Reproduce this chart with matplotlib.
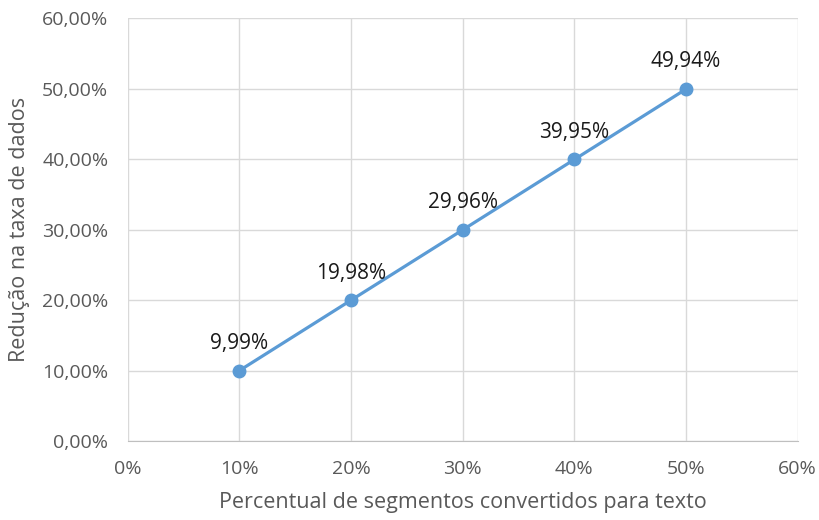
import matplotlib
matplotlib.use("Agg")
import matplotlib.pyplot as plt
from matplotlib.ticker import FuncFormatter

# percentual de segmentos convertidos (%) e reducao na taxa (%)
segmentos = [10, 20, 30, 40, 50]
reducao = [9.99, 19.98, 29.96, 39.95, 49.94]
rotulos = ["9,99%", "19,98%", "29,96%", "39,95%", "49,94%"]

plt.rcParams['font.family'] = ['Open Sans', 'DejaVu Sans']

fig = plt.figure(figsize=(8.19, 5.2), dpi=100)
ax = fig.add_axes([0.156, 0.152, 0.818, 0.813])

ax.plot(segmentos, reducao, color='#5B9BD5', linewidth=2.3, marker='o',
        markersize=9, zorder=3)
for x, y, t in zip(segmentos, reducao, rotulos):
    ax.annotate(t, (x, y), xytext=(0, 12), textcoords='offset points',
                ha='center', va='bottom', fontsize=15, color='#1a1a1a')

ax.set_xlim(0, 60)
ax.set_ylim(0, 60)
ax.set_xticks(range(0, 61, 10))
ax.set_yticks(range(0, 61, 10))
ax.xaxis.set_major_formatter(FuncFormatter(lambda v, p: "%d%%" % v))
ax.yaxis.set_major_formatter(FuncFormatter(lambda v, p: ("%.2f%%" % v).replace('.', ',')))

ax.grid(True, color='#d9d9d9', linewidth=1)
ax.set_axisbelow(True)
for s in ['top', 'right', 'left']:
    ax.spines[s].set_visible(False)
ax.spines['bottom'].set_color('#bfbfbf')
ax.tick_params(length=0, labelsize=14, colors='#595959')
ax.tick_params(axis='y', pad=14)
ax.tick_params(axis='x', pad=14)

ax.set_xlabel("Percentual de segmentos convertidos para texto", fontsize=15.5,
              color='#595959', labelpad=10)
ax.set_ylabel("Redução na taxa de dados", fontsize=15.5, color='#595959',
              labelpad=9)

fig.savefig("out.png", dpi=100)
